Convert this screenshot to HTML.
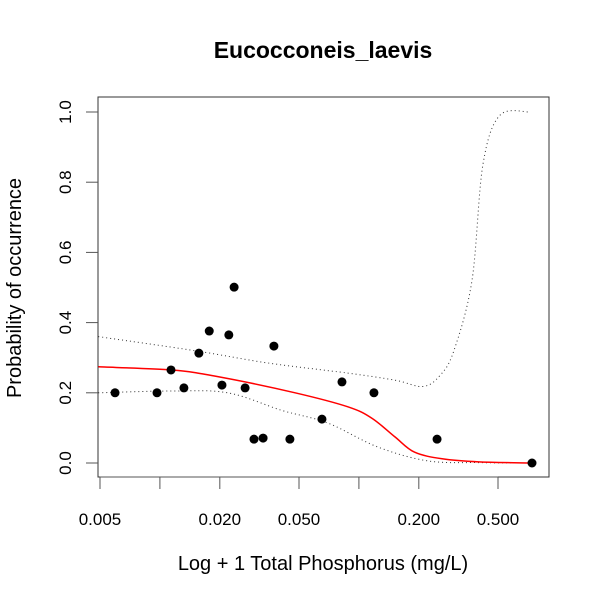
<!DOCTYPE html>
<html><head><meta charset="utf-8"><style>
body{margin:0;background:#fff}
svg{display:block;font-family:"Liberation Sans",Arial,sans-serif}
</style></head><body>
<svg width="600" height="600" viewBox="0 0 600 600" id="chart">
<text x="323" y="58" text-anchor="middle" font-size="23" font-weight="bold">Eucocconeis_laevis</text>
<text x="323" y="570" text-anchor="middle" font-size="20">Log + 1 Total Phosphorus (mg/L)</text>
<text transform="translate(21,288) rotate(-90)" text-anchor="middle" font-size="20">Probability of occurrence</text>
<rect x="98" y="97" width="451" height="380" fill="none" stroke="#333" stroke-width="1"/>
<g id="marks"></g>
</svg>
<script>
const xTicks=[0.005,0.01,0.02,0.05,0.1,0.2,0.5];
const xTickLabels=["0.005","","0.020","0.050","","0.200","0.500"];
const yTicks=[0,0.2,0.4,0.6,0.8,1.0];
const yTickLabels=["0.0","0.2","0.4","0.6","0.8","1.0"];
const pointX=[0.00595,0.00967,0.01137,0.0132,0.0157,0.0177,0.0205,0.0222,0.0236,0.0268,0.0297,0.033,0.0374,0.045,0.0652,0.0822,0.119,0.247,0.741];
const pointY=[0.20,0.20,0.265,0.214,0.313,0.376,0.222,0.365,0.501,0.214,0.068,0.071,0.333,0.068,0.125,0.231,0.20,0.068,0.0];
const fitX=[0.0049,0.0115,0.02,0.0478,0.088,0.116,0.152,0.19,0.262,0.4,0.74];
const fitY=[0.274,0.265,0.245,0.20,0.16,0.128,0.074,0.031,0.012,0.003,0.0];
const upperX=[0.0049,0.015,0.0349,0.088,0.152,0.21,0.256,0.3,0.37,0.42,0.51,0.72];
const upperY=[0.36,0.32,0.285,0.256,0.236,0.218,0.25,0.32,0.52,0.85,0.99,1.0];
const lowerX=[0.0049,0.0115,0.0219,0.041,0.0697,0.124,0.222,0.4,0.74];
const lowerY=[0.20,0.205,0.20,0.15,0.114,0.046,0.006,0.001,0.0];

const NS="http://www.w3.org/2000/svg";
const g=document.getElementById('marks');
function sx(v){return 100+199*Math.log10(v/0.005);}
function sy(p){return 463-351*p;}
function mk(t,a){const e=document.createElementNS(NS,t);for(const k in a)e.setAttribute(k,a[k]);g.appendChild(e);return e;}

xTicks.forEach((v,i)=>{
  const l=mk('line',{x1:sx(v),x2:sx(v),y1:477,y2:489,stroke:'#555'});
  
  
  if(xTickLabels[i]){
    const t=mk('text',{x:sx(v),y:525,'text-anchor':'middle','font-size':17});
    t.textContent=xTickLabels[i];
    
    
  }
});
const xa=mk('line',{x1:sx(xTicks[0]),x2:sx(xTicks[xTicks.length-1]),y1:477,y2:477,stroke:'#555'});


yTicks.forEach((v,i)=>{
  const l=mk('line',{x1:86,x2:98,y1:sy(v),y2:sy(v),stroke:'#555'});
  
  
  const t=mk('text',{transform:`translate(71,${sy(v)}) rotate(-90)`,'text-anchor':'middle','font-size':17});
  t.textContent=yTickLabels[i];
  
  
});
function path(xs,ys){
  const p=xs.map((v,i)=>[sx(v),sy(ys[i])]);
  let d='M'+p[0][0].toFixed(1)+','+p[0][1].toFixed(1);
  for(let i=0;i<p.length-1;i++){
    const p0=p[Math.max(0,i-1)],p1=p[i],p2=p[i+1],p3=p[Math.min(p.length-1,i+2)];
    const c1=[p1[0]+(p2[0]-p0[0])/6,p1[1]+(p2[1]-p0[1])/6];
    const c2=[p2[0]-(p3[0]-p1[0])/6,p2[1]-(p3[1]-p1[1])/6];
    d+=` C${c1[0].toFixed(1)},${c1[1].toFixed(1)} ${c2[0].toFixed(1)},${c2[1].toFixed(1)} ${p2[0].toFixed(1)},${p2[1].toFixed(1)}`;
  }
  return d;
}
const up=mk('path',{d:path(upperX,upperY),fill:'none',stroke:'#333','stroke-width':1,'stroke-dasharray':'1,3'});


const lo=mk('path',{d:path(lowerX,lowerY),fill:'none',stroke:'#333','stroke-width':1,'stroke-dasharray':'1,3'});


const fit=mk('path',{d:path(fitX,fitY),fill:'none',stroke:'#ff0000','stroke-width':1.5});


pointX.forEach((v,i)=>{
  const c=mk('circle',{cx:sx(v),cy:sy(pointY[i]),r:4.5,fill:'#000'});
  
  
});
</script>
</body></html>
